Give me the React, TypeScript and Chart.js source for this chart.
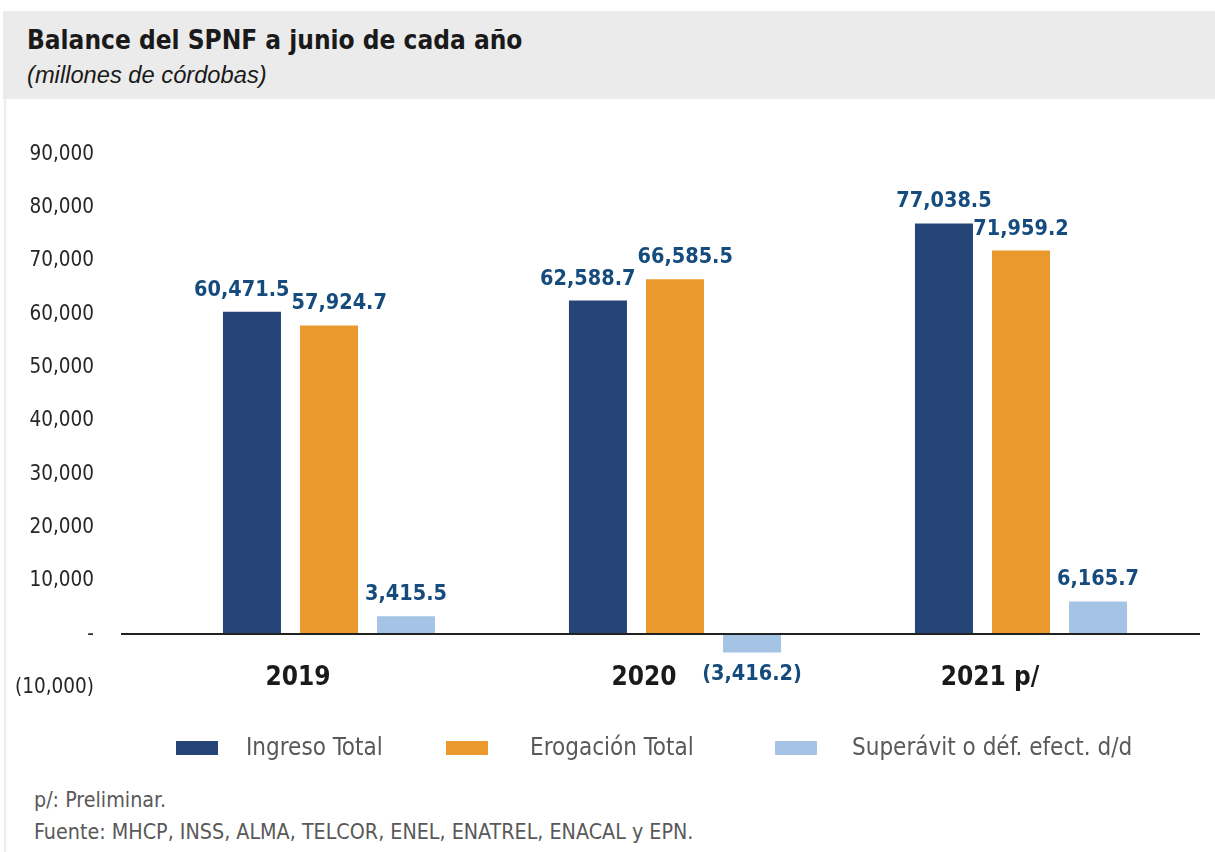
import React, { useEffect, useRef } from "react";
import { Chart, registerables } from "chart.js";

Chart.register(...registerables);

const categories = ["2019", "2020", "2021 p/"];
const seriesNames = ["Ingreso Total", "Erogación Total", "Superávit o déf. efect. d/d"];
const ingresoTotal = [60471.5, 62588.7, 77038.5];
const erogacionTotal = [57924.7, 66585.5, 71959.2];
const superavit = [3415.5, -3416.2, 6165.7];
const seriesColors = ["#264478", "#EA9A2D", "#A5C3E5"];
const yMin = -10000;
const yMax = 90000;
const yStep = 10000;
const titleText = "Balance del SPNF a junio de cada año";
const subtitleText = "(millones de córdobas)";
const noteTexts = ["p/: Preliminar.", "Fuente: MHCP, INSS, ALMA, TELCOR, ENEL, ENATREL, ENACAL y EPN."];

const FONT = '"DejaVu Sans Condensed", "DejaVu Sans", sans-serif';
const LABEL_COLOR = "#154b7d";

function fmt(v: number, dec: number): string {
  const s = Math.abs(v).toLocaleString("en-US", {
    minimumFractionDigits: dec,
    maximumFractionDigits: dec,
  });
  return v < 0 ? `(${s})` : s;
}

const zeroLinePlugin = {
  id: "zeroLine",
  afterDatasetsDraw(chart: any) {
    const { ctx, chartArea, scales } = chart;
    const y = Math.round(scales.y.getPixelForValue(0));
    ctx.save();
    ctx.strokeStyle = "#222222";
    ctx.lineWidth = 2;
    ctx.beginPath();
    ctx.moveTo(chartArea.left - 35, y);
    ctx.lineTo(chartArea.right + 6, y);
    ctx.stroke();
    ctx.restore();
  },
};

const valueLabelPlugin = {
  id: "valueLabels",
  afterDatasetsDraw(chart: any) {
    const { ctx } = chart;
    ctx.save();
    ctx.font = `bold 21.5px ${FONT}`;
    ctx.fillStyle = LABEL_COLOR;
    ctx.textAlign = "center";
    ctx.textBaseline = "alphabetic";
    const n = chart.data.labels.length;
    for (let i = 0; i < n; i++) {
      const items: any[] = [];
      chart.data.datasets.forEach((ds: any, di: number) => {
        const el: any = chart.getDatasetMeta(di).data[i];
        const v = ds.data[i] as number;
        const txt = fmt(v, 1);
        const w = ctx.measureText(txt).width;
        const by = v >= 0 ? el.y - 16 : el.y + 27;
        items.push({ txt, x: el.x, y: by, w });
      });
      for (let k = 0; k < items.length - 1; k++) {
        const a = items[k];
        const b = items[k + 1];
        if (Math.abs(a.y - b.y) < 24) {
          const overlap = a.x + a.w / 2 + 2 - (b.x - b.w / 2);
          if (overlap > 0) {
            a.x -= overlap / 2;
            b.x += overlap / 2;
          }
        }
      }
      items.forEach((it) => ctx.fillText(it.txt, it.x, it.y));
    }
    ctx.restore();
  },
};

export default function App() {
  const canvasRef = useRef<HTMLCanvasElement | null>(null);

  useEffect(() => {
    if (!canvasRef.current) return;
    const seriesData = [ingresoTotal, erogacionTotal, superavit];
    const chart = new Chart(canvasRef.current, {
      type: "bar",
      data: {
        labels: categories,
        datasets: seriesNames.map((name, i) => ({
          label: name,
          data: seriesData[i],
          backgroundColor: seriesColors[i],
          borderWidth: 0,
          categoryPercentage: 0.668,
          barPercentage: 0.753,
        })),
      },
      options: {
        responsive: false,
        animation: false,
        devicePixelRatio: 1,
        layout: { padding: { top: 20, bottom: 20, left: 0, right: 21 } },
        plugins: {
          legend: { display: false },
          tooltip: { enabled: false },
          title: { display: false },
        },
        scales: {
          x: {
            type: "category",
            position: { y: 0 } as any,
            grid: { display: false, drawTicks: false },
            border: { display: false },
            afterFit: (s: any) => {
              s.height = 0;
            },
            ticks: {
              font: { family: FONT, size: 26, weight: "bold" },
              color: "#1a1a1a",
              padding: 28,
              labelOffset: -31,
              maxRotation: 0,
              autoSkip: false,
            },
          },
          y: {
            type: "linear",
            min: yMin,
            max: yMax,
            grid: { display: false, drawTicks: false },
            border: { display: false },
            afterFit: (s: any) => {
              s.width = 156;
            },
            ticks: {
              stepSize: yStep,
              padding: 62,
              font: { family: FONT, size: 20.5 },
              color: "#262626",
              callback: (v: any) => (Number(v) === 0 ? "-" : fmt(Number(v), 0)),
            },
          },
        },
      },
      plugins: [zeroLinePlugin, valueLabelPlugin],
    });
    return () => chart.destroy();
  }, []);

  const legendBoxLeft = [176, 446, 775];
  const legendTextLeft = [246, 530, 852];

  return (
    <div
      style={{
        position: "absolute",
        left: 0,
        top: 0,
        width: 1215,
        height: 852,
        background: "#ffffff",
        overflow: "hidden",
        fontFamily: FONT,
      }}
    >
      <div
        style={{
          position: "absolute",
          left: 3,
          top: 11,
          width: 1212,
          height: 88,
          background: "#ebebeb",
        }}
      />
      <div
        style={{
          position: "absolute",
          left: 4,
          top: 99,
          width: 2,
          height: 753,
          background: "#ececec",
        }}
      />
      <div
        style={{
          position: "absolute",
          left: 27,
          top: 24,
          height: 32,
          lineHeight: "32px",
          fontSize: 26,
          fontWeight: "bold",
          color: "#1a1a1a",
          whiteSpace: "nowrap",
        }}
      >
        {titleText}
      </div>
      <div
        style={{
          position: "absolute",
          left: 27,
          top: 61,
          height: 28,
          lineHeight: "28px",
          fontSize: 23.7,
          fontStyle: "italic",
          fontFamily: '"Liberation Sans", Arial, sans-serif',
          color: "#1a1a1a",
          whiteSpace: "nowrap",
        }}
      >
        {subtitleText}
      </div>
      <canvas
        ref={canvasRef}
        width={1215}
        height={682}
        style={{ position: "absolute", left: 0, top: 80, width: 1215, height: 682 }}
      />
      {seriesNames.map((name, i) => (
        <React.Fragment key={name}>
          <div
            style={{
              position: "absolute",
              left: legendBoxLeft[i],
              top: 741,
              width: 42,
              height: 14,
              background: seriesColors[i],
            }}
          />
          <div
            style={{
              position: "absolute",
              left: legendTextLeft[i],
              top: 733,
              height: 28,
              lineHeight: "28px",
              fontSize: 24,
              color: "#595959",
              whiteSpace: "nowrap",
            }}
          >
            {name}
          </div>
        </React.Fragment>
      ))}
      {noteTexts.map((t, i) => (
        <div
          key={t}
          style={{
            position: "absolute",
            left: 34,
            top: 787 + i * 32,
            height: 26,
            lineHeight: "26px",
            fontSize: 21.3,
            color: "#595959",
            whiteSpace: "nowrap",
          }}
        >
          {t}
        </div>
      ))}
    </div>
  );
}
